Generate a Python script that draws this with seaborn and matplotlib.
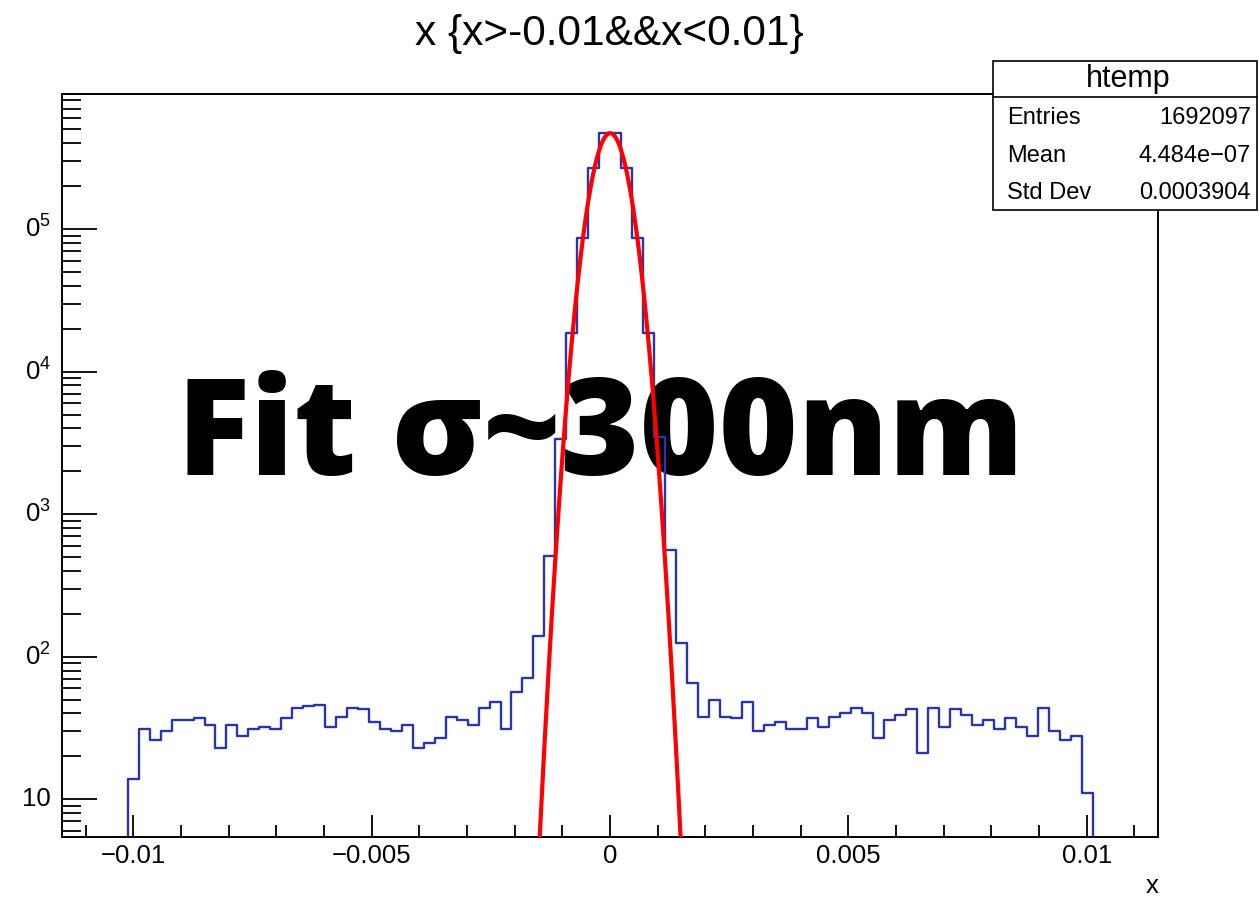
import numpy as np
import pandas as pd
import matplotlib
matplotlib.use("Agg")
import matplotlib.pyplot as plt
import seaborn as sns
from matplotlib.patches import Rectangle
from matplotlib.lines import Line2D
from matplotlib.transforms import offset_copy, Bbox, TransformedBbox

# histogram axis: 100 bins over the frame, data only in bins 6..93
x_lo, x_hi = -0.0115, 0.0115
n_bins = 100
first_filled_bin = 6

# counts (log scale)
left_tail = [14, 31, 26, 30, 36, 36, 37, 33, 23, 33, 28, 31, 32, 31, 37, 44, 45, 46, 32,
             38, 44, 43, 35, 31, 30, 33, 23, 25, 27, 38, 36, 33, 44, 48, 31, 57, 71]
core = [140, 508, 3350, 18700, 85900, 266000, 468000, 468000, 266000, 85900, 18700,
        3490, 560, 125]
right_tail = [65, 38, 50, 38, 37, 48, 30, 33, 35, 31, 31, 37, 32, 38, 40, 44, 40, 27, 36,
              39, 43, 21, 44, 32, 43, 39, 33, 36, 31, 37, 32, 28, 44, 30, 26, 28, 11]

# gaussian fit parameters
fit_const = 4.7e5
fit_mean = 0.0
fit_sigma = 0.00031

# stats box
stats_title = "htemp"
stats_names = ["Entries", "Mean", "Std Dev"]
stats_values = ["1692097", "4.484e\u221207", "0.0003904"]

xtick_vals = [-0.01, -0.005, 0, 0.005, 0.01]
xtick_labels = ["\u22120.01", "\u22120.005", "0", "0.005", "0.01"]
ytick_vals = [10, 100, 1000, 10000, 100000]
ytick_labels = ["10", r"$\mathregular{10^{2}}$", r"$\mathregular{10^{3}}$",
                r"$\mathregular{10^{4}}$", r"$\mathregular{10^{5}}$"]

# build the table
edges = np.linspace(x_lo, x_hi, n_bins + 1)
counts = left_tail + core + right_tail
centers = (edges[:-1] + edges[1:]) / 2
df = pd.DataFrame({"x": centers[first_filled_bin:first_filled_bin + len(counts)],
                   "n": counts})

sns.set_style("white")
plt.rcParams["font.family"] = ["Liberation Sans", "DejaVu Sans"]
plt.rcParams["mathtext.fontset"] = "custom"
plt.rcParams["mathtext.rm"] = "Liberation Sans"
plt.rcParams["text.color"] = "black"
plt.rcParams["axes.labelcolor"] = "black"
plt.rcParams["xtick.color"] = "black"
plt.rcParams["ytick.color"] = "black"

W, H = 1259, 899
fig = plt.figure(figsize=(W / 100, H / 100), dpi=100)
ax = fig.add_axes([62 / W, (H - 836.7) / H, (1158.3 - 62) / W, (836.7 - 94) / H])

blue = "#2a36a8"
sns.histplot(data=df, x="x", weights="n", bins=n_bins, binrange=(x_lo, x_hi),
             element="step", fill=False, color=blue, linewidth=1.7, ax=ax)
ax.set_yscale("log")

# red gaussian fit
xs = np.linspace(-0.0025, 0.0025, 800)
fit_df = pd.DataFrame({"x": xs,
                       "y": fit_const * np.exp(-0.5 * ((xs - fit_mean) / fit_sigma) ** 2)})
sns.lineplot(data=fit_df, x="x", y="y", color="red", linewidth=3.0, ax=ax, zorder=4)

ax.set_xlim(x_lo, x_hi)
ax.set_ylim(5.47, 8.85e5)
ax.set_ylabel("")

# frame
for sp in ax.spines.values():
    sp.set_visible(True)
    sp.set_color("black")
    sp.set_linewidth(1.4)

# x ticks
ax.set_xticks(xtick_vals)
ax.set_xticklabels(xtick_labels)
ax.set_xticks(np.arange(-0.011, 0.0111, 0.001), minor=True)
ax.tick_params(axis="x", which="major", direction="in", length=16, width=1.3,
               bottom=True, top=False, labelsize=18.5, pad=5, colors="black")
ax.tick_params(axis="x", which="minor", direction="in", length=8.6, width=1.3,
               bottom=True, top=False)

# y ticks (log), labels drawn as texts so the left edge can clip like the original
ax.set_yticks(ytick_vals)
minor_y = [m * 10 ** e for e in range(0, 6) for m in range(2, 10)]
ax.set_yticks([v for v in minor_y if 5.47 < v < 8.85e5], minor=True)
ax.set_yticklabels([])
ax.set_yticklabels([], minor=True)
ax.tick_params(axis="y", which="major", direction="in", length=25, width=1.3,
               left=True, right=False)
ax.tick_params(axis="y", which="minor", direction="in", length=13.7, width=1.3,
               left=True, right=False)

lab_tr = offset_copy(ax.get_yaxis_transform(), fig=fig, x=-11, y=0, units="dots")
clip = TransformedBbox(Bbox([[24.5 / W, 0], [1, 1]]), fig.transFigure)
for v, lab in zip(ytick_vals, ytick_labels):
    t = fig.text(0, v, lab, transform=lab_tr, ha="right", va="center", fontsize=18.5)
    if v > 10:
        t.set_clip_box(clip)
        t.set_clip_on(True)

# axis title
ax.set_xlabel("x", loc="right", fontsize=18.5)
ax.xaxis.set_label_coords(1.0, -0.05)
ax.xaxis.label.set_horizontalalignment("right")

# title
fig.text(609.5 / W, 1 - 45 / H, "x {x>-0.01&&x<0.01}", ha="center", va="baseline",
         fontsize=30.5)

# stats box
bx0, bx1, by0, by1, bsep = 993.3, 1257, 60.7, 210, 96.7
fig.add_artist(Rectangle((bx0 / W, 1 - by1 / H), (bx1 - bx0) / W, (by1 - by0) / H,
                         transform=fig.transFigure, facecolor="white", edgecolor="black",
                         linewidth=1.2, zorder=5))
fig.add_artist(Line2D([bx0 / W, bx1 / W], [1 - bsep / H, 1 - bsep / H],
                      transform=fig.transFigure, color="black", linewidth=1.2, zorder=6))
fig.text(1128 / W, 1 - 79 / H, stats_title, ha="center", va="center",
         fontsize=22, zorder=7)
for i, (nm, val) in enumerate(zip(stats_names, stats_values)):
    yy = 1 - (118 + 37.5 * i) / H
    fig.text(1007 / W, yy, nm, ha="left", va="center", fontsize=17, zorder=7)
    fig.text(1251 / W, yy, val, ha="right", va="center", fontsize=17, zorder=7)

# big annotation
ax.text(177 / W, 1 - 475 / H, "Fit \u03c3~300nm", transform=fig.transFigure,
        ha="left", va="baseline", fontsize=97.5, fontweight=800, color="black",
        family="Open Sans", zorder=1, clip_on=False)

fig.savefig("out.png", dpi=100)
